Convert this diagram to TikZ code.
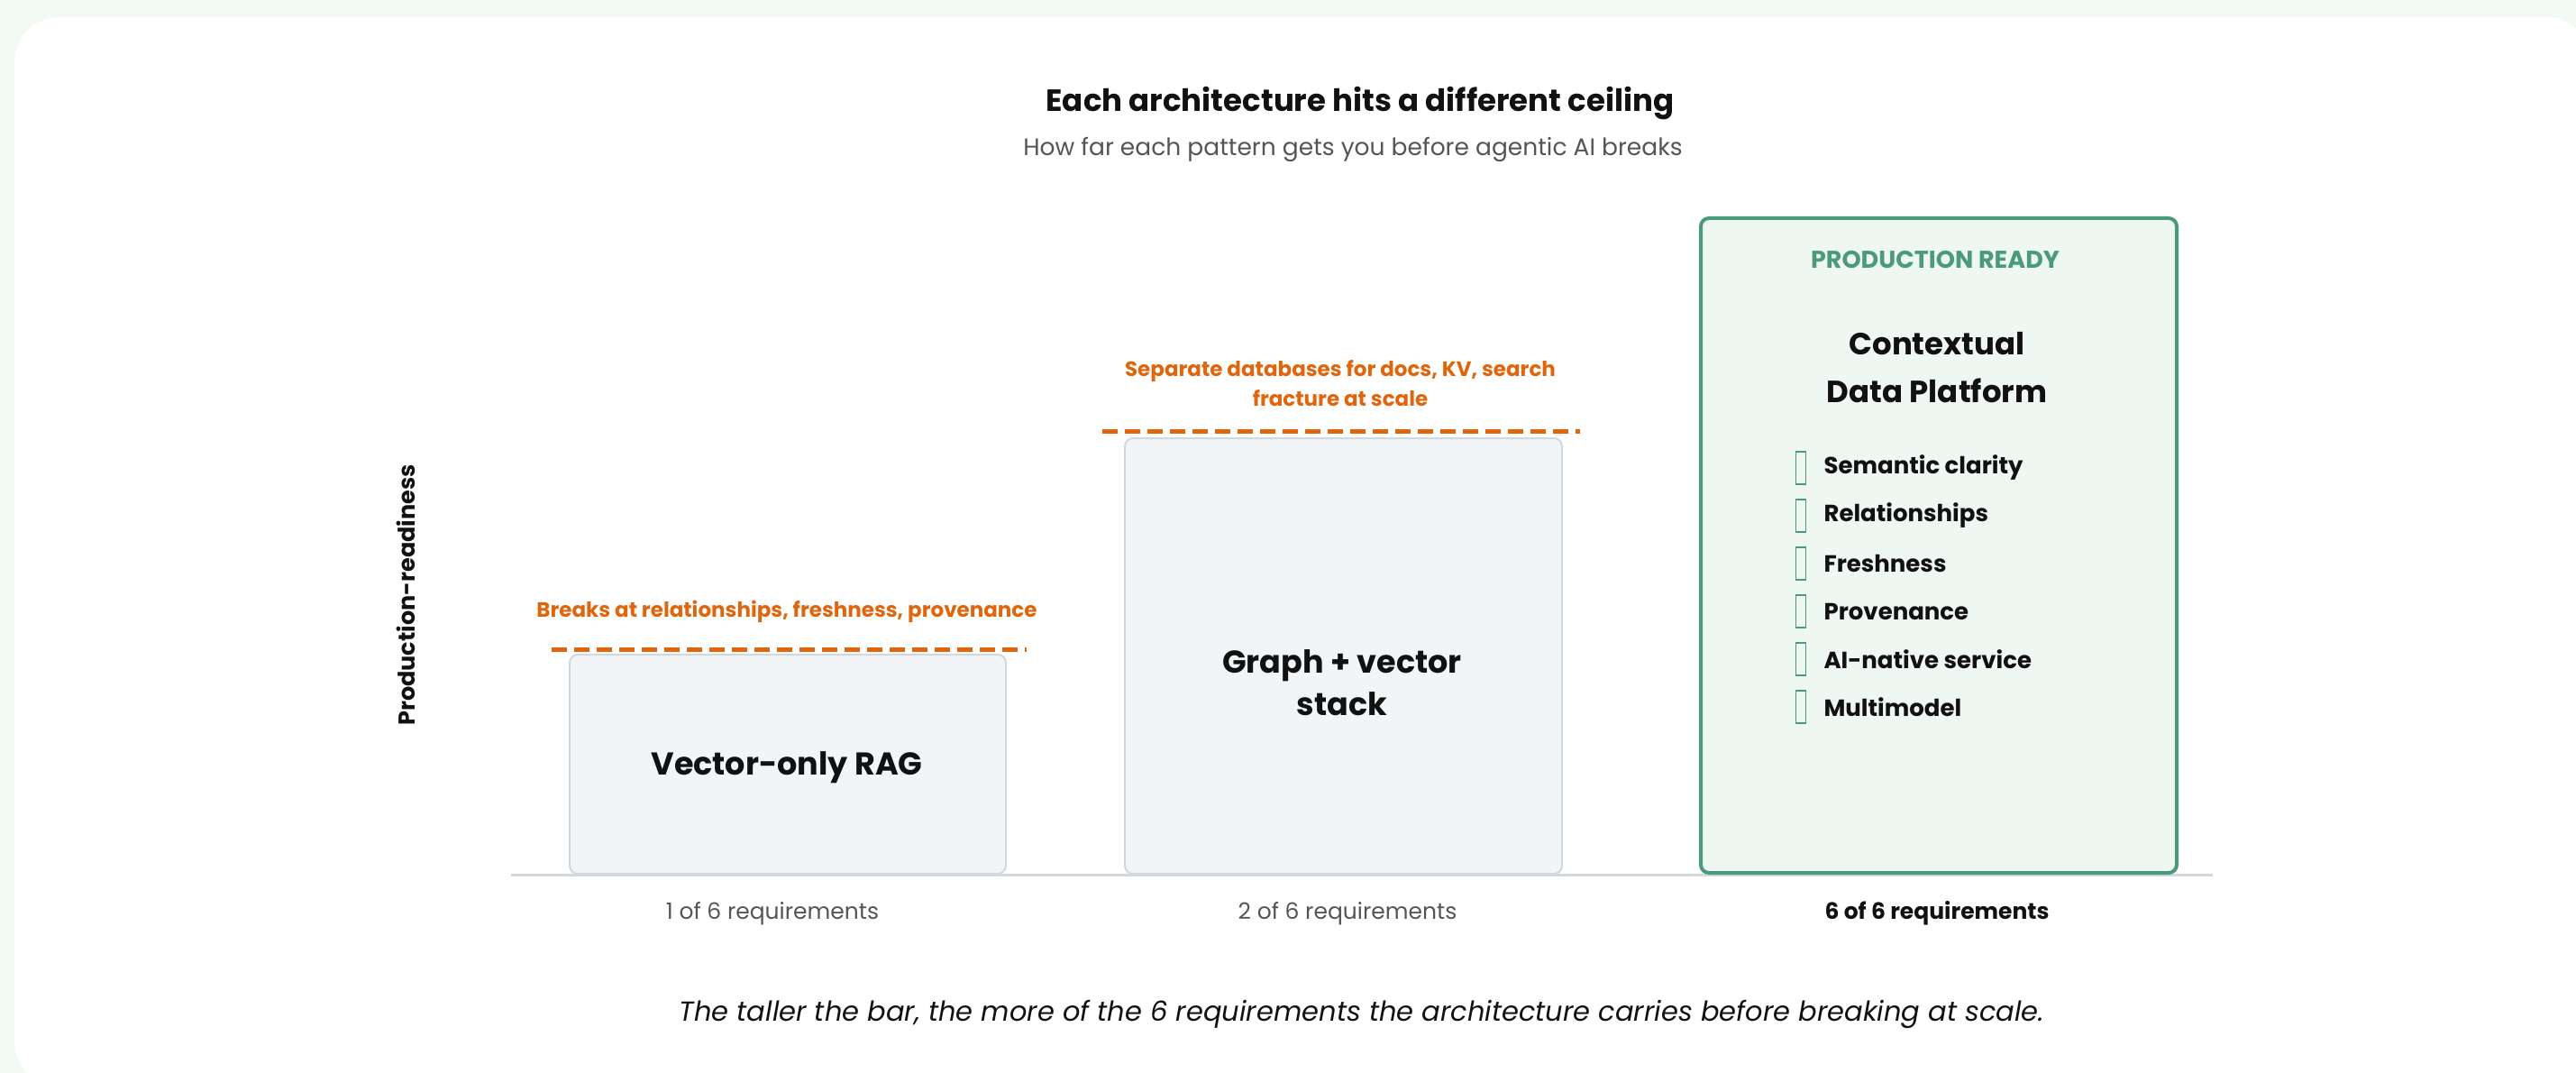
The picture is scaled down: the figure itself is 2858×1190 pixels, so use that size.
\documentclass[tikz,border=0pt]{standalone}
\usepackage{fontspec}
\setmainfont{Poppins}
\definecolor{bgc}{HTML}{F3FAF4}
\definecolor{orng}{HTML}{E0660E}
\definecolor{grn}{HTML}{4C9A7C}
\definecolor{grnfill}{HTML}{EEF7F2}
\definecolor{barfill}{HTML}{F1F5F8}
\definecolor{barline}{HTML}{D3D7DE}
\definecolor{ink}{HTML}{111111}
\definecolor{soft}{HTML}{555555}
\begin{document}
\begin{tikzpicture}[x=1pt,y=-1pt,
  graybar/.style={draw=barline,fill=barfill,line width=2pt,rounded corners=9pt,inner sep=0pt},
  greenbar/.style={draw=grn,fill=grnfill,line width=4pt,rounded corners=9pt,inner sep=0pt},
  ceiling/.style={draw=orng,line width=5pt,dash pattern=on 17pt off 8pt},
  warn/.style={text=orng,font=\fontsize{23}{32}\selectfont\bfseries,align=center},
  barlabel/.style={text=ink,font=\fontsize{35}{47}\selectfont\bfseries,align=center},
  item/.style={text=ink,font=\fontsize{26}{30}\selectfont\bfseries,anchor=west},
  tick/.style={draw=grn,line width=1.5pt,minimum width=11pt,minimum height=36pt,inner sep=0pt},
  axislbl/.style={text=soft,font=\fontsize{25}{29}\selectfont}
]
\useasboundingbox (0,0) rectangle (2858,1190);
\clip (0,0) rectangle (2858,1190);
\fill[bgc] (0,0) rectangle (2858,1190);
\fill[white,rounded corners=50pt] (16,19) rectangle (2875,1205);

% titles
\node[text=ink,font=\fontsize{34}{40}\selectfont\bfseries] (title) at (1509,115) {Each architecture hits a different ceiling};
\node[text=soft,font=\fontsize{26.5}{32}\selectfont] (subtitle) at (1501,166) {How far each pattern gets you before agentic AI breaks};

% y-axis label
\node[text=ink,font=\fontsize{25.5}{30}\selectfont\bfseries,rotate=90] (ylabel) at (450,660) {Production-readiness};

% baseline
\coordinate (bl) at (567,970);
\coordinate (br) at (2455,970);
\draw[barline,line width=3pt] (bl) -- (br);

% bars
\node[graybar,minimum width=484pt,minimum height=243pt,anchor=south west] (bar1) at (631,970) {};
\node[graybar,minimum width=485pt,minimum height=483pt,anchor=south west] (bar2) at (1247,970) {};
\node[greenbar,minimum width=528pt,minimum height=726pt,anchor=south west] (bar3) at (1885,970) {};

% ceilings
\draw[ceiling] (612,720) -- (1139,720);
\draw[ceiling] (1223,478) -- (1753,478);

\node[warn] (warn1) at (873,678) {Breaks at relationships, freshness, provenance};
\node[warn,font=\fontsize{23}{33}\selectfont\bfseries] (warn2) at (1487,425) {Separate databases for docs, KV, search\\fracture at scale};

% bar labels
\node[barlabel] (lab1) at (873,851) {Vector-only RAG};
\node[barlabel,font=\fontsize{35}{47}\selectfont\bfseries] (lab2) at (1489,757) {Graph + vector\\stack};

\node[text=grn,font=\fontsize{27}{31}\selectfont\bfseries] (prod) at (2147,288) {PRODUCTION READY};
\node[barlabel,font=\fontsize{34}{53}\selectfont\bfseries] (lab3) at (2149,408) {Contextual\\Data Platform};

% items
\foreach \i/\t in {0/Semantic clarity,1/Relationships,2/Freshness,3/Provenance,4/AI-native service,5/Multimodel}{
  \node[tick] (tk\i) at (1998,{519+53*\i}) {};
  \node[item] (it\i) at (2020,{519+53*\i}) {\t};
}

% axis labels
\node[axislbl] (ax1) at (857,1013) {1 of 6 requirements};
\node[axislbl] (ax2) at (1495,1013) {2 of 6 requirements};
\node[axislbl,text=ink,font=\fontsize{25}{29}\selectfont\bfseries] (ax3) at (2149,1013) {6 of 6 requirements};

% caption
\node[text=ink,font=\fontsize{30.5}{36}\selectfont\itshape] (caption) at (1511,1125) {The taller the bar, the more of the 6 requirements the architecture carries before breaking at scale.};
\end{tikzpicture}
\end{document}
